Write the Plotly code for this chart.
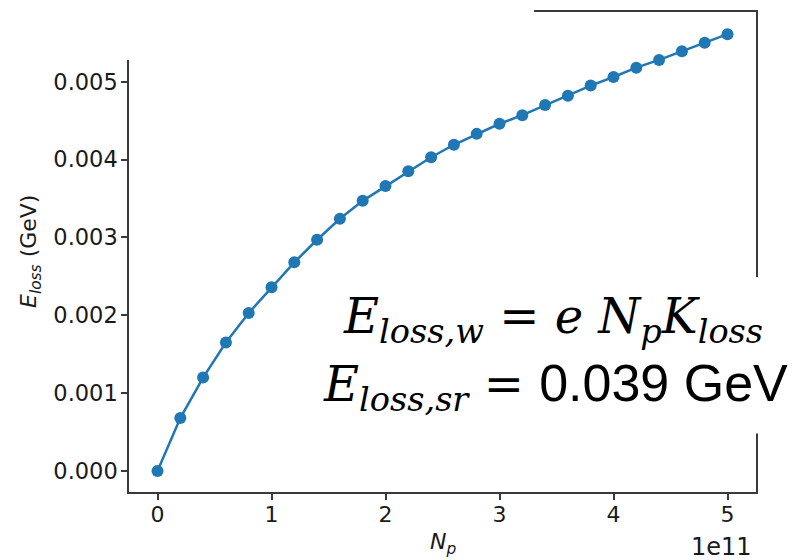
import plotly.graph_objects as go

# Data
n_p = [0.0, 0.2e11, 0.4e11, 0.6e11, 0.8e11, 1.0e11, 1.2e11, 1.4e11, 1.6e11, 1.8e11,
       2.0e11, 2.2e11, 2.4e11, 2.6e11, 2.8e11, 3.0e11, 3.2e11, 3.4e11, 3.6e11, 3.8e11,
       4.0e11, 4.2e11, 4.4e11, 4.6e11, 4.8e11, 5.0e11]
e_loss = [0.0, 0.00068, 0.00120, 0.00165, 0.00203, 0.00236, 0.00268, 0.00297, 0.00324, 0.00347,
          0.00366, 0.00385, 0.00403, 0.00419, 0.00433, 0.00446, 0.00457, 0.00470, 0.00482, 0.00495,
          0.00506, 0.00518, 0.00528, 0.00539, 0.00550, 0.00561]
x_tick_vals = [0, 1e11, 2e11, 3e11, 4e11, 5e11]
x_tick_text = ["0", "1", "2", "3", "4", "5"]
y_tick_vals = [0.000, 0.001, 0.002, 0.003, 0.004, 0.005]

BLUE = "#1f77b4"
AX = "#3a3a3a"
FONT = "DejaVu Sans"
TXT = "#1a1a1a"

fig = go.Figure()
fig.add_trace(go.Scatter(
    x=n_p, y=e_loss, mode="lines+markers",
    line=dict(color=BLUE, width=2.5),
    marker=dict(color=BLUE, size=12),
    showlegend=False, hoverinfo="skip"))

fig.update_layout(
    width=795, height=560,
    margin=dict(l=129, r=39, t=10, b=68),
    paper_bgcolor="white", plot_bgcolor="white",
    font=dict(family=FONT, size=22, color=TXT),
)
fig.update_xaxes(
    range=[-0.25e11, 5.25e11], tickvals=x_tick_vals, ticktext=x_tick_text,
    showgrid=False, zeroline=False, showline=True, mirror=True,
    linecolor=AX, linewidth=1.5, ticks="outside", ticklen=6, tickwidth=1.5, tickcolor=AX,
    tickfont=dict(family=FONT, size=22, color=TXT), ticklabelstandoff=-4,
)
fig.update_yaxes(
    range=[-0.000269, 0.005895], tickvals=y_tick_vals, tickformat=".3f",
    showgrid=False, zeroline=False, showline=True, mirror=True,
    linecolor=AX, linewidth=1.5, ticks="outside", ticklen=6, tickwidth=1.5, tickcolor=AX,
    tickfont=dict(family=FONT, size=22.5, color=TXT), ticklabelstandoff=-1,
)

# White covers (parts of the frame hidden in the reference)
fig.add_shape(type="rect", xref="paper", yref="paper", x0=-0.3, x1=0.646, y0=0.900, y1=1.1,
              fillcolor="white", line=dict(width=0), layer="above")
fig.add_shape(type="rect", xref="paper", yref="paper", x0=0.27, x1=1.07, y0=0.122, y1=0.448,
              fillcolor="white", line=dict(width=0), layer="above")

# Axis titles
fig.add_annotation(xref="paper", yref="paper", x=(30 - 129) / 627, y=0.5, textangle=-90,
                   text="<i>E</i><sub><i>loss</i></sub> (GeV)", showarrow=False,
                   font=dict(family=FONT, size=22, color=TXT),
                   xanchor="center", yanchor="middle")
fig.add_annotation(xref="paper", yref="paper", x=(443 - 129) / 627, y=(492 - 544) / 482,
                   text="<i>N</i><sub><i>p</i></sub>", showarrow=False,
                   font=dict(family=FONT, size=22, color=TXT),
                   xanchor="center", yanchor="middle")
fig.add_annotation(xref="paper", yref="paper", x=(754 - 129) / 627, y=(492 - 547) / 482,
                   text="1e11", showarrow=False,
                   font=dict(family=FONT, size=24, color=TXT),
                   xanchor="right", yanchor="middle")

# Equation text
SERIF = "DejaVu Serif"
fig.add_annotation(xref="paper", yref="paper", x=(553 - 129) / 627, y=(492 - 319) / 482,
                   text="<i>E</i><sub><i>loss,w</i></sub> = <i>e N</i><sub><i>p</i></sub><i>K</i><sub><i>loss</i></sub>",
                   showarrow=False, font=dict(family=SERIF, size=48, color="black"),
                   xanchor="center", yanchor="middle")
fig.add_annotation(xref="paper", yref="paper", x=(555 - 129) / 627, y=(492 - 386) / 482,
                   text="<i>E</i><sub><i>loss,sr</i></sub> = <span style='font-family:Liberation Sans;font-size:52px'>0.039 GeV</span>",
                   showarrow=False, font=dict(family=SERIF, size=48, color="black"),
                   xanchor="center", yanchor="middle")

fig.write_html("out.html")
